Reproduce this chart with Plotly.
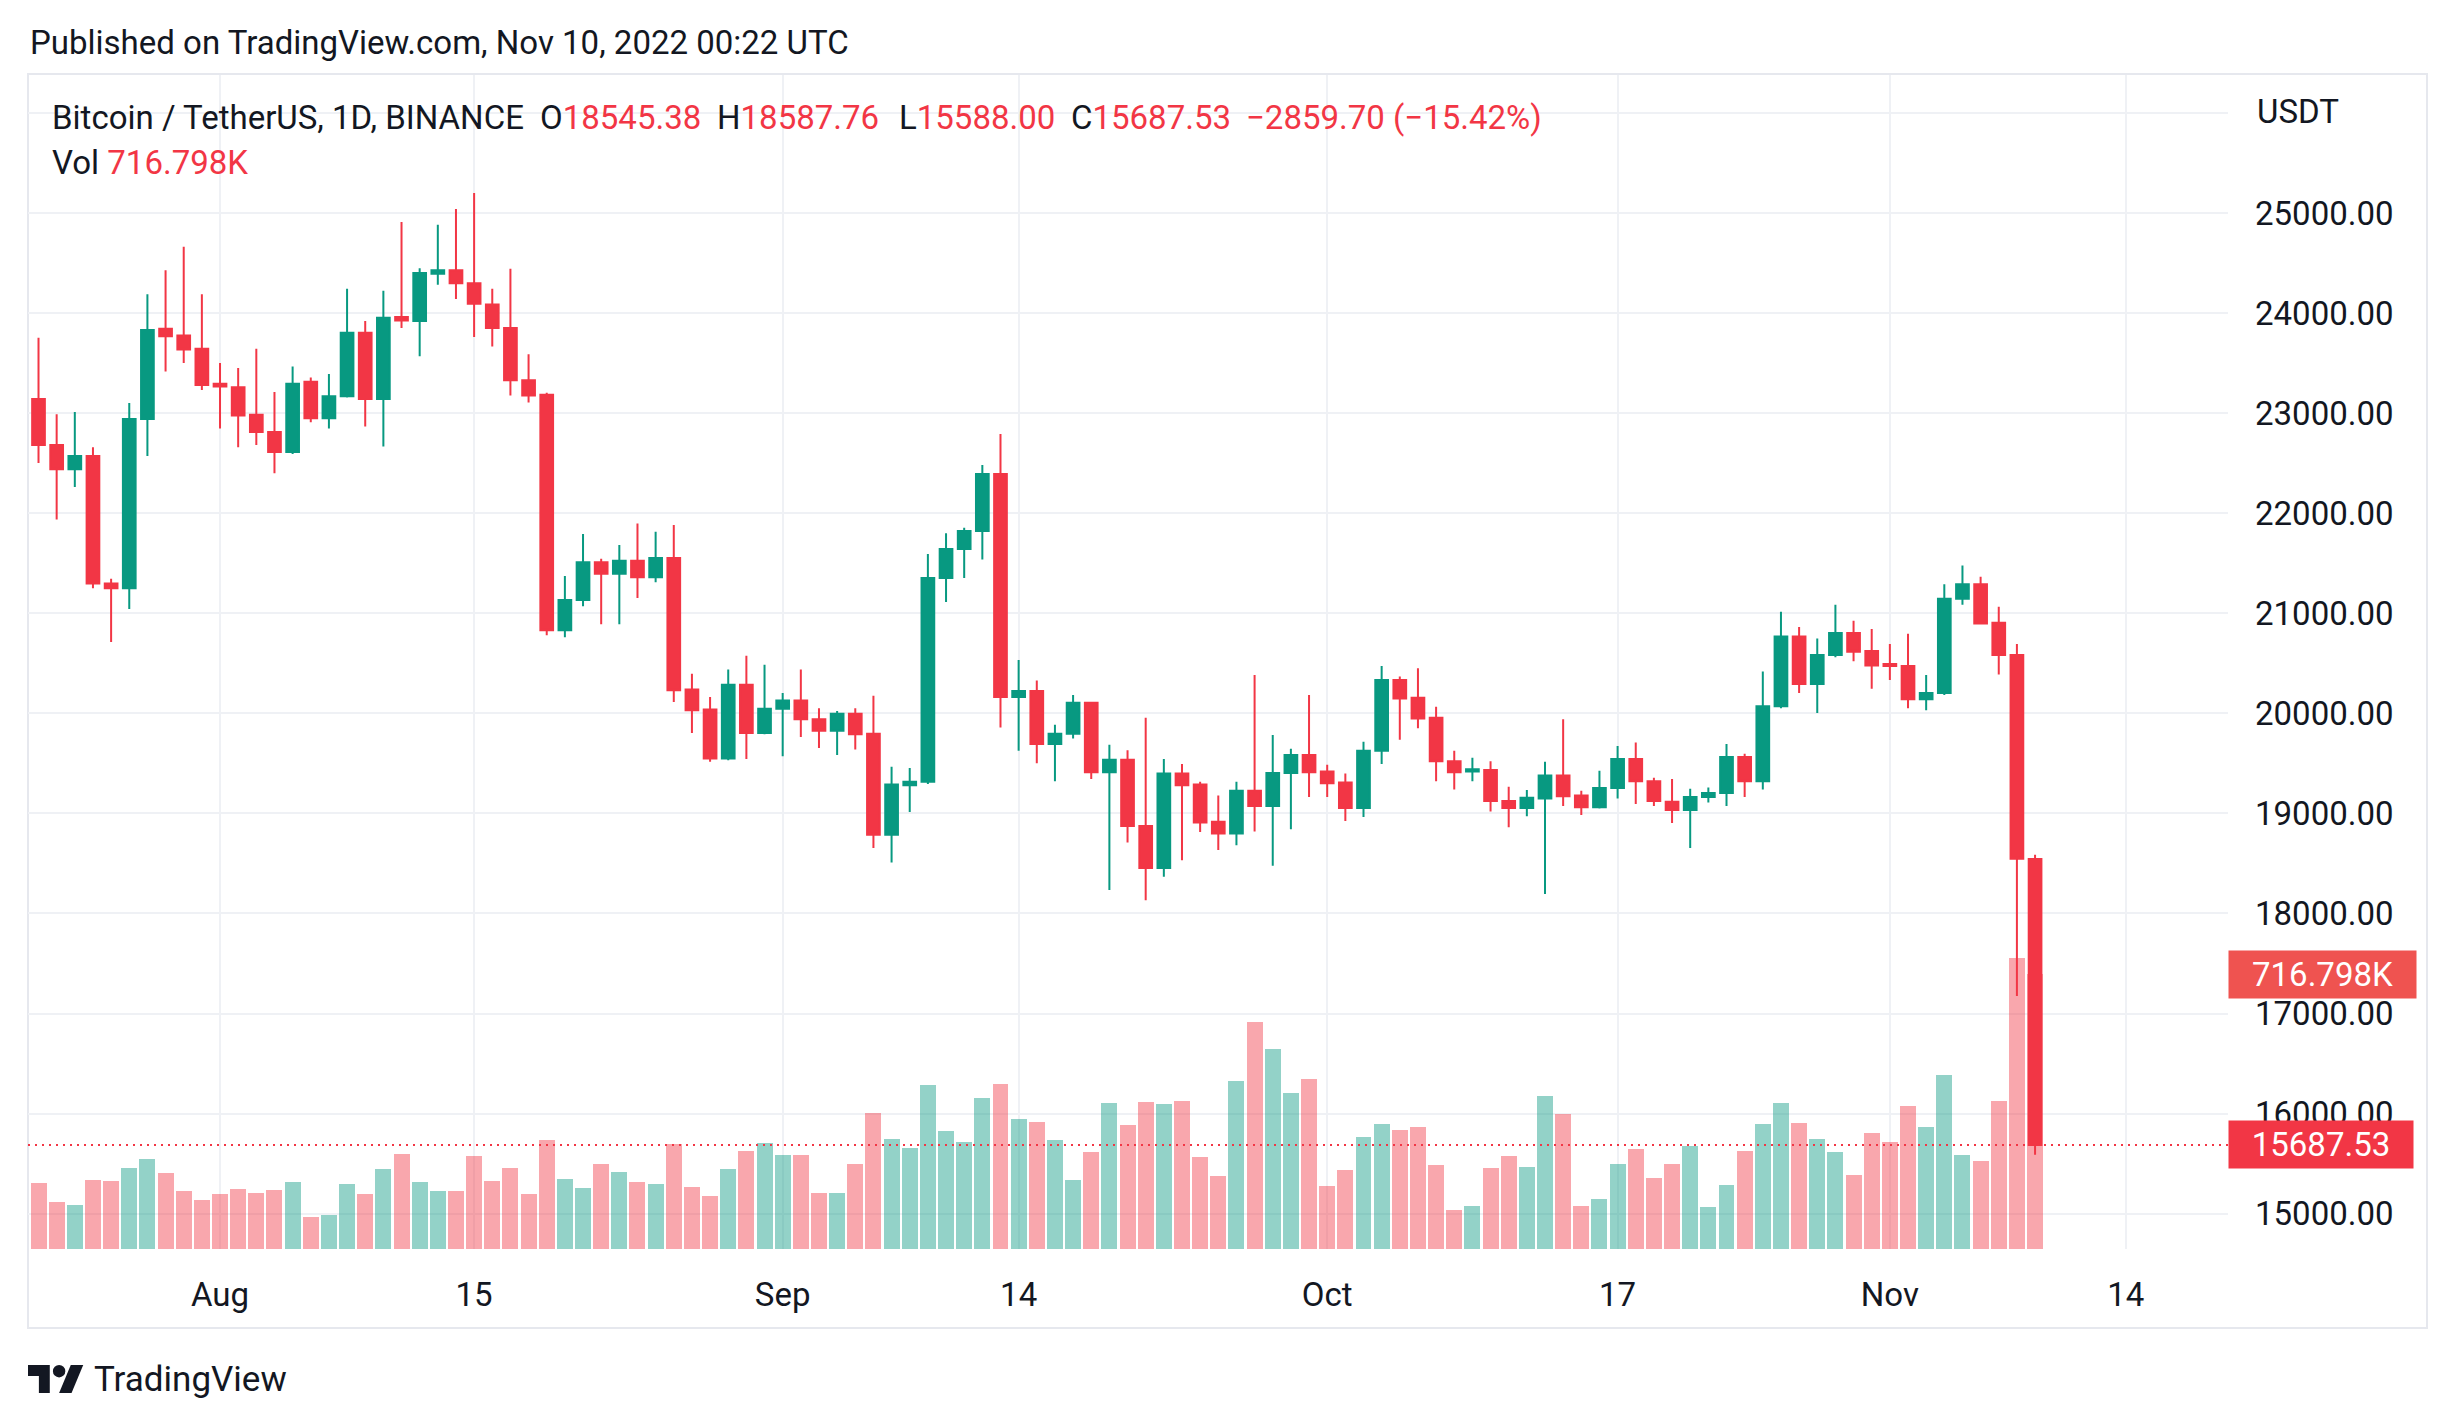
import plotly.graph_objects as go
import pandas as pd

# ---------------- data ----------------
dates = pd.date_range("2022-07-22", "2022-11-09", freq="D").strftime("%Y-%m-%d").tolist()

opens = [23142, 22681, 22440, 22571, 21297, 21249, 22942, 23844, 23775, 23644,
         23293, 23259, 22984, 22812, 22612, 23314, 22949, 23169, 23803, 23142,
         23961, 23920, 24394, 24429, 24298, 24085, 23851, 23328, 23183, 20830,
         21132, 21511, 21394, 21525, 21359, 21552, 20238, 20038, 19549, 20286,
         19804, 20045, 20128, 19942, 19825, 19997, 19797, 18786, 19281, 19316,
         21353, 21642, 21821, 22392, 20162, 20224, 19694, 19797, 20107, 19412,
         19536, 18875, 18455, 19398, 19288, 18916, 18799, 19226, 19075, 19405,
         19584, 19419, 19309, 19054, 19625, 20334, 20155, 19956, 19522, 19419,
         19433, 19123, 19054, 19150, 19378, 19178, 19061, 19254, 19543, 19322,
         19116, 19033, 19164, 19205, 19563, 19322, 20072, 20768, 20293, 20582,
         20802, 20623, 20492, 20472, 20141, 20203, 21146, 21291, 20905, 20582,
         18545.38]
highs = [23754, 22990, 23011, 22660, 21346, 23100, 24188, 24429, 24663, 24188,
         23500, 23451, 23644, 23211, 23465, 23355, 23390, 24243, 23920, 24222,
         24910, 24449, 24883, 25041, 25200, 24243, 24443, 23589, 23204, 21373,
         21793, 21545, 21683, 21896, 21814, 21883, 20396, 20162, 20437, 20575,
         20486, 20204, 20437, 20052, 20024, 20052, 20176, 19467, 19453, 21593,
         21800, 21855, 22481, 22791, 20534, 20327, 19887, 20183, 20114, 19687,
         19632, 19955, 19543, 19494, 19316, 19178, 19316, 20382, 19783, 19646,
         20183, 19487, 19398, 19715, 20472, 20368, 20451, 20066, 19625, 19556,
         19522, 19267, 19233, 19515, 19942, 19226, 19426, 19673, 19708, 19357,
         19343, 19247, 19260, 19694, 19597, 20417, 21015, 20864, 20747, 21084,
         20926, 20843, 20692, 20795, 20382, 21291, 21477, 21366, 21064, 20692,
         18587.76]
lows = [22502, 21937, 22261, 21249, 20713, 21043, 22571, 23417, 23500, 23231,
        22846, 22660, 22681, 22399, 22591, 22908, 22846, 23156, 22867, 22667,
        23851, 23569, 24284, 24140, 23761, 23665, 23176, 23107, 20781, 20761,
        21070, 20891, 20891, 21153, 21311, 20114, 19804, 19515, 19530, 19543,
        19790, 19570, 19763, 19653, 19584, 19639, 18655, 18510, 19013, 19295,
        21112, 21353, 21538, 19859, 19625, 19501, 19322, 19749, 19343, 18235,
        18710, 18132, 18366, 18531, 18813, 18634, 18682, 18820, 18476, 18841,
        19164, 19164, 18923, 18964, 19494, 19735, 19852, 19322, 19240, 19322,
        19019, 18861, 18971, 18194, 19075, 18985, 19050, 19150, 19095, 19075,
        18903, 18655, 19109, 19075, 19164, 19240, 20052, 20203, 20004, 20561,
        20520, 20245, 20334, 20052, 20031, 20183, 21084, 20892, 20389, 17175,
        15588.00]
closes = [22681, 22440, 22571, 21297, 21249, 22942, 23830, 23768, 23637, 23280,
          23266, 22977, 22812, 22612, 23293, 22949, 23169, 23803, 23142, 23954,
          23926, 24401, 24429, 24298, 24092, 23851, 23328, 23176, 20830, 21132,
          21511, 21394, 21525, 21359, 21552, 20231, 20031, 19549, 20286, 19804,
          20045, 20128, 19942, 19825, 19997, 19790, 18786, 19288, 19316, 21353,
          21642, 21821, 22392, 20162, 20224, 19694, 19797, 20107, 19412, 19536,
          18875, 18455, 19398, 19281, 18909, 18799, 19226, 19075, 19405, 19584,
          19412, 19302, 19054, 19625, 20334, 20148, 19949, 19522, 19412, 19440,
          19123, 19054, 19157, 19378, 19171, 19061, 19254, 19543, 19322, 19123,
          19033, 19164, 19205, 19563, 19322, 20072, 20768, 20293, 20582, 20802,
          20616, 20478, 20472, 20141, 20203, 21146, 21291, 20898, 20582, 18547.23,
          15687.53]
volumes_k = [172.5, 122.2, 115.0, 179.7, 177.9, 212.0, 235.3, 197.6, 150.9, 127.6,
             143.7, 156.3, 145.5, 154.5, 174.3, 82.6, 88.0, 168.9, 143.7, 208.4,
             247.9, 174.3, 150.9, 150.9, 242.5, 177.9, 212.0, 143.7, 283.8, 183.2,
             159.9, 221.0, 201.2, 174.3, 168.9, 273.1, 161.7, 138.3, 208.4, 255.1,
             276.7, 244.3, 244.3, 145.5, 145.5, 221.0, 353.9, 287.4, 264.1, 427.6,
             307.2, 278.5, 393.4, 431.2, 339.5, 330.6, 283.8, 179.7, 253.3, 380.9,
             323.4, 382.7, 377.3, 386.2, 240.7, 190.4, 438.3, 592.8, 521.0, 406.0,
             443.7, 163.5, 206.6, 292.8, 325.2, 310.8, 318.0, 219.2, 102.4, 111.4,
             212.0, 242.5, 213.8, 398.8, 352.1, 111.4, 131.1, 221.0, 260.5, 185.0,
             221.0, 269.5, 109.6, 167.1, 255.1, 325.2, 380.9, 328.8, 287.4, 253.3,
             192.2, 301.8, 278.5, 373.7, 318.0, 454.5, 244.3, 230.0, 386.2, 758.1,
             716.798]

price_ticks = [15000, 16000, 17000, 18000, 19000, 20000, 21000, 22000, 23000, 24000, 25000, 26000]
time_ticks = ["2022-08-01", "2022-08-15", "2022-09-01", "2022-09-14", "2022-10-01",
              "2022-10-17", "2022-11-01", "2022-11-14"]
time_labels = ["Aug", "15", "Sep", "14", "Oct", "17", "Nov", "14"]

# ---------------- style ----------------
GREEN = "#089981"
RED = "#F23645"
GREEN_T = "rgba(8,153,129,0.44)"
RED_T = "rgba(242,54,69,0.44)"
TXT = "#131722"
GRID = "#EFF1F5"
FONT = "Roboto"

W, H = 2454, 1425
L, R, T, B = 28, 226, 75, 176
PW = W - L - R
PH = H - T - B


def px(x):
    return (x - L) / PW


def py(y):
    return (H - B - y) / PH


fig = go.Figure()

vol_colors = [GREEN_T if c >= o else RED_T for o, c in zip(opens, closes)]
fig.add_trace(go.Bar(x=dates, y=volumes_k, width=0.88 * 86400000,
                     marker=dict(color=vol_colors, line=dict(width=0)),
                     yaxis="y", hoverinfo="skip"))

fig.add_trace(go.Candlestick(
    x=dates, open=opens, high=highs, low=lows, close=closes, yaxis="y2",
    increasing=dict(line=dict(color=GREEN, width=2), fillcolor=GREEN),
    decreasing=dict(line=dict(color=RED, width=2), fillcolor=RED),
    whiskerwidth=0))

fig.update_layout(
    width=W, height=H,
    margin=dict(l=L, r=R, t=T, b=B),
    paper_bgcolor="white", plot_bgcolor="white",
    showlegend=False, boxgap=0.3, boxgroupgap=0, bargap=0,
    font=dict(family=FONT, size=33, color=TXT),
    xaxis=dict(type="date", range=["2022-07-21 10:06", "2022-11-19 15:07"],
               tickvals=time_ticks, ticktext=time_labels,
               showgrid=True, gridcolor=GRID, gridwidth=2,
               rangeslider=dict(visible=False), ticks="", showline=False,
               zeroline=False, tickfont=dict(size=33, color=TXT),
               ticklabelstandoff=23),
    yaxis=dict(range=[0, 3062], visible=False, showgrid=False, zeroline=False),
    yaxis2=dict(overlaying="y", side="right", range=[14647, 26379],
                tickvals=price_ticks,
                ticktext=[f"{v:.2f}" if v < 26000 else "" for v in price_ticks],
                showgrid=True, gridcolor=GRID, gridwidth=2, ticks="",
                showline=False, zeroline=False,
                tickfont=dict(size=33, color=TXT), ticklabelstandoff=26),
)

last_c = closes[-1]
prev_c = closes[-2]
chg = last_c - prev_c
pct = chg / prev_c * 100


def fmt_signed(v):
    return ("\u2212" if v < 0 else "+") + f"{abs(v):.2f}"


shapes = []
# last price dotted line
shapes.append(dict(type="line", xref="paper", x0=0, x1=1, yref="y2", y0=last_c, y1=last_c,
                   line=dict(color=RED, width=2, dash="2px,5px"), layer="above"))
# outer frame
shapes.append(dict(type="rect", xref="paper", yref="paper",
                   x0=px(28), x1=px(2427), y0=py(1328), y1=py(74),
                   line=dict(color="#E6E8EE", width=2), layer="below"))

# TradingView logo
s = 28 / 18.0


def lx(u):
    return px(28 + u * s)


def ly(v):
    return py(1365 + (v - 4) * s)


def poly(pts):
    return "M " + " L ".join(f"{lx(a):.5f},{ly(b):.5f}" for a, b in pts) + " Z"


shapes.append(dict(type="path", xref="paper", yref="paper",
                   path=poly([(14, 22), (7, 22), (7, 11), (0, 11), (0, 4), (14, 4)]),
                   fillcolor=TXT, line=dict(width=0)))
shapes.append(dict(type="path", xref="paper", yref="paper",
                   path=poly([(28, 22), (20, 22), (27.5, 4), (35.5, 4)]),
                   fillcolor=TXT, line=dict(width=0)))
shapes.append(dict(type="circle", xref="paper", yref="paper",
                   x0=lx(16), x1=lx(24), y0=ly(12), y1=ly(4),
                   fillcolor=TXT, line=dict(width=0)))

ann = []


def text(x, y, t, size=33, color=TXT, anchor="left"):
    ann.append(dict(xref="paper", yref="paper", x=px(x), y=py(y), text=t,
                    showarrow=False, xanchor=anchor, yanchor="middle",
                    font=dict(family=FONT, size=size, color=color)))


def red(v):
    return f'<span style="color:{RED}">{v}</span>'


text(28, 42, "Published on TradingView.com, Nov 10, 2022 00:22 UTC")
text(50, 117, "Bitcoin / TetherUS, 1D, BINANCE")
text(538, 117, "O" + red(f"{opens[-1]:.2f}"))
text(715, 117, "H" + red(f"{highs[-1]:.2f}"))
text(897, 117, "L" + red(f"{lows[-1]:.2f}"))
text(1069, 117, "C" + red(f"{last_c:.2f}"))
text(1244, 117, red(f"{fmt_signed(chg)} ({fmt_signed(pct)}%)"))
text(50, 163, "Vol " + red(f"{volumes_k[-1]:.3f}K"))
text(2255, 111, "USDT")
text(92, 1379, "TradingView", size=35)

# right-axis value labels
ann.append(dict(xref="paper", x=1, xanchor="left", yref="y2", y=last_c, yanchor="middle",
                text=f"{last_c:.2f}", showarrow=False, bgcolor=RED, width=184, height=47,
                borderpad=0, align="center", xshift=0,
                font=dict(family=FONT, size=33, color="white")))
ann.append(dict(xref="paper", x=1, xanchor="left", yref="y", y=volumes_k[-1], yanchor="middle",
                text=f"{volumes_k[-1]:.3f}K", showarrow=False, bgcolor="#EF5350", width=187,
                height=47, borderpad=0, align="center",
                font=dict(family=FONT, size=33, color="white")))

fig.update_layout(shapes=shapes, annotations=ann)

fig.write_html("out.html", config={"displayModeBar": False},
               post_script="document.body.style.margin='0';document.body.style.overflow='hidden';")
